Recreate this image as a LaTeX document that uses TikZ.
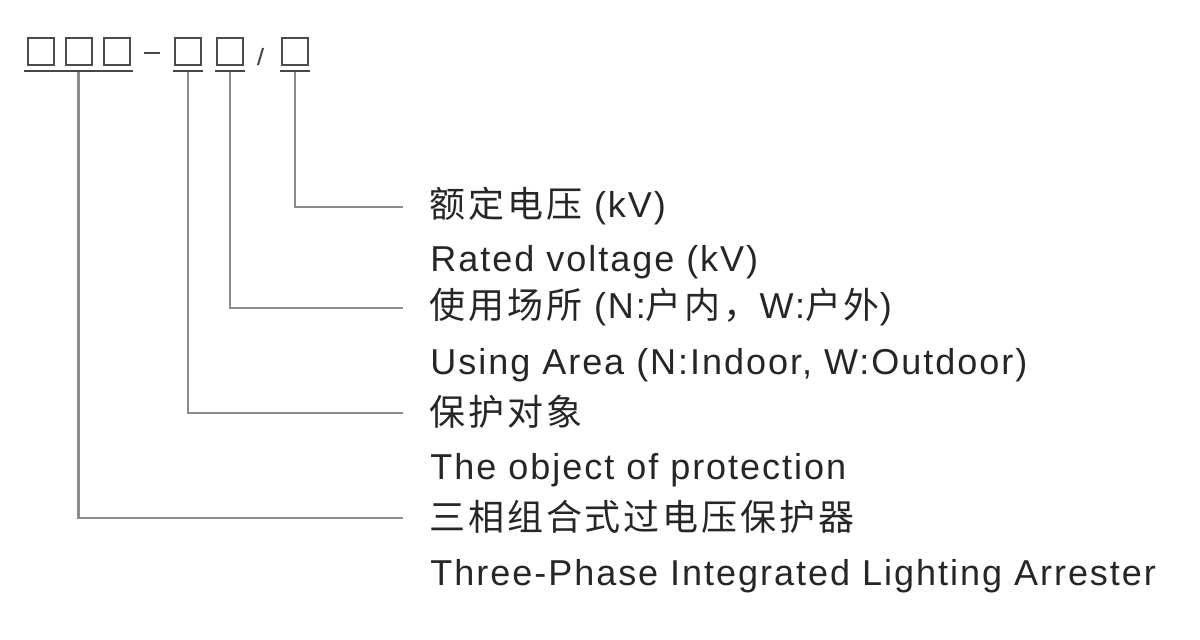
\documentclass[tikz,border=0pt]{standalone}
\usepackage{fontspec}
\setmainfont[LetterSpace=5.5]{Liberation Sans}
\newfontfamily\cjk[LetterSpace=8]{Noto Sans CJK SC}
\usetikzlibrary{calc}
\tikzset{
	digit/.style={draw=black!70, line width=1pt, minimum width=13pt, minimum height=13.5pt, inner sep=0pt},
	uline/.style={line width=1pt, color=black!72},
	lead/.style={line width=1.1pt, color=black!45},
	lbl/.style={anchor=west, inner sep=0pt, font=\fontsize{18}{22}\selectfont, text=black!85},
	sub/.style={anchor=base west, inner sep=0pt, font=\fontsize{18}{22}\selectfont, text=black!85}
}

\begin{document}
\begin{tikzpicture}[x=0.5pt, y=-0.5pt]
			%%%%% START %%%%%
			\useasboundingbox (0, 0) rectangle (1200, 639);
			
			\node[digit] (b1) at (41, 51.5) {};
			\node[digit] (b2) at (78.5, 51.5) {};
			\node[digit] (b3) at (116.5, 51.5) {};
			\node[digit] (b4) at (188, 51.5) {};
			\node[digit] (b5) at (230, 51.5) {};
			\node[digit] (b6) at (295, 51.5) {};
			
			\draw[uline] (144, 53) -- (160, 53);
			\draw[uline] (258, 65) -- (263, 48);
			
			\draw[uline] ($(b1.south west)+(-3, 4.5)$) -- ($(b3.south east)+(2, 4.5)$);
			\draw[uline] ($(b4.south west)+(-1, 4.5)$) -- ($(b4.south east)+(1, 4.5)$);
			\draw[uline] ($(b5.south west)+(-1, 4.5)$) -- ($(b5.south east)+(1, 4.5)$);
			\draw[uline] ($(b6.south west)+(-1, 4.5)$) -- ($(b6.south east)+(1, 4.5)$);
			
			\node[lbl] (t1) at (429, 206) {{\cjk 额定电压} (kV)};
			\node[sub] (e1) at (430, 271) {Rated voltage (kV)};
			\node[lbl] (t2) at (429, 307) {{\cjk 使用场所} (N:{\cjk 户内，}W:{\cjk 户外})};
			\node[sub] (e2) at (430, 374) {Using Area (N:Indoor, W:Outdoor)};
			\node[lbl] (t3) at (429, 412) {{\cjk 保护对象}};
			\node[sub] (e3) at (430, 479) {The object of protection};
			\node[lbl] (t4) at (429, 517) {{\cjk 三相组合式过电压保护器}};
			\node[sub] (e4) at (430, 585) {Three-Phase Integrated Lighting Arrester};
			
			\draw[lead] ($(b6.south)+(0, 5.5)$) |- ($(t1.west)+(-26, 1)$);
			\draw[lead] ($(b5.south)+(0, 5.5)$) |- ($(t2.west)+(-26, 1)$);
			\draw[lead] ($(b4.south)+(0, 5.5)$) |- ($(t3.west)+(-26, 1)$);
			\draw[lead] ($(b2.south)+(0, 5.5)$) |- ($(t4.west)+(-26, 1)$);
			
			%%%%% END %%%%%
\end{tikzpicture}
\end{document}
